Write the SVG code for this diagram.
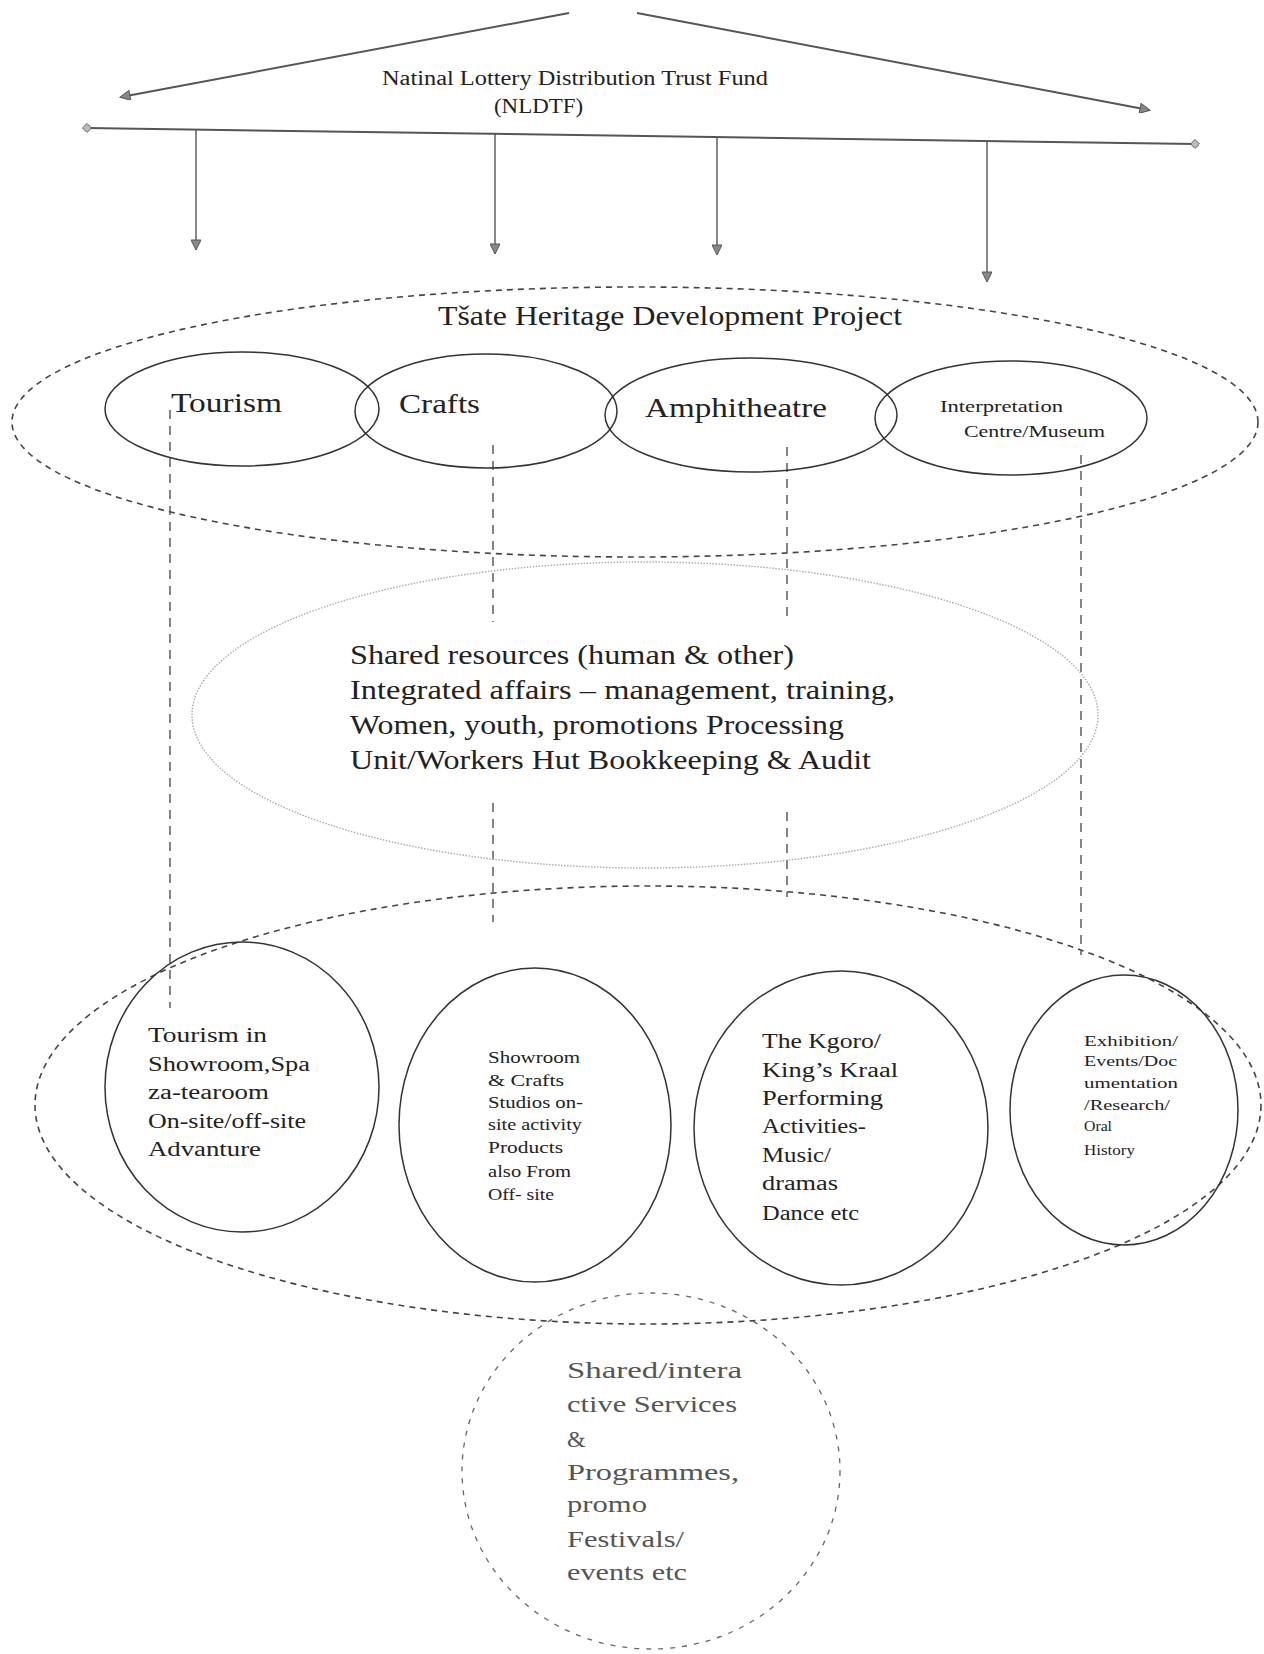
<svg xmlns="http://www.w3.org/2000/svg" width="1264" height="1654" viewBox="0 0 1264 1654">
<style>
  .bg{fill:#ffffff}
  .t{font-family:"Liberation Serif","Times New Roman",serif;fill:#222}
  .tl{font-family:"Liberation Serif","Times New Roman",serif;fill:#555}
  .solid{fill:none;stroke:#333;stroke-width:1.5}
  .dash{fill:none;stroke:#444;stroke-width:1.6;stroke-dasharray:6 5}
  .dot{fill:none;stroke:#aaa;stroke-width:1.4;stroke-dasharray:1.5 1.5}
  .vdash{fill:none;stroke:#444;stroke-width:1.3;stroke-dasharray:9 7}
  .ldash{fill:none;stroke:#666;stroke-width:1.3;stroke-dasharray:5 7}
  .arr{fill:none;stroke:#555;stroke-width:2}
  .arr2{fill:none;stroke:#555;stroke-width:1.4}
</style>
<defs>
  <marker id="ah" viewBox="0 0 10 10" refX="9" refY="5" markerWidth="12" markerHeight="10" markerUnits="userSpaceOnUse" orient="auto">
    <path d="M0,0 L10,5 L0,10 Z" fill="#888" stroke="#555" stroke-width="1"/>
  </marker>
  <marker id="dm" viewBox="0 0 10 10" refX="5" refY="5" markerWidth="9" markerHeight="9" markerUnits="userSpaceOnUse" orient="auto">
    <path d="M0,5 L5,0 L10,5 L5,10 Z" fill="#bbb" stroke="#555" stroke-width="1"/>
  </marker>
</defs>
<rect class="bg" x="0" y="0" width="1264" height="1654"/>

<g id="connectors">
  <line class="arr" x1="569" y1="13" x2="121" y2="97" marker-end="url(#ah)"/>
  <line class="arr" x1="637" y1="13" x2="1149" y2="110" marker-end="url(#ah)"/>
  <line class="arr" x1="87" y1="128" x2="1195" y2="144" marker-start="url(#dm)" marker-end="url(#dm)"/>
  <line class="arr2" x1="196" y1="130" x2="196" y2="249" marker-end="url(#ah)"/>
  <line class="arr2" x1="495" y1="134" x2="495" y2="253" marker-end="url(#ah)"/>
  <line class="arr2" x1="717" y1="137" x2="717" y2="254" marker-end="url(#ah)"/>
  <line class="arr2" x1="987" y1="141" x2="987" y2="281" marker-end="url(#ah)"/>
  <line class="vdash" x1="170" y1="410" x2="170" y2="1008"/>
  <line class="vdash" x1="493" y1="445" x2="493" y2="622"/>
  <line class="vdash" x1="493" y1="803" x2="493" y2="922"/>
  <line class="vdash" x1="787" y1="447" x2="787" y2="623"/>
  <line class="vdash" x1="787" y1="812" x2="787" y2="897"/>
  <line class="vdash" x1="1081" y1="455" x2="1081" y2="955"/>
</g>

<g id="nldtf">
  <text class="t" x="382" y="85" font-size="20" textLength="386" lengthAdjust="spacingAndGlyphs">Natinal Lottery Distribution Trust Fund</text>
  <text class="t" x="494" y="113" font-size="20" textLength="89" lengthAdjust="spacingAndGlyphs">(NLDTF)</text>
</g>

<g id="project">
  <ellipse class="dash" cx="635" cy="422" rx="623" ry="135"/>
  <text class="t" x="438" y="325" font-size="27" textLength="464" lengthAdjust="spacingAndGlyphs">Tšate Heritage Development Project</text>
</g>

<g id="tourism">
  <ellipse class="solid" cx="242" cy="409" rx="137" ry="57"/>
  <text class="t" x="171" y="412" font-size="28" textLength="111" lengthAdjust="spacingAndGlyphs">Tourism</text>
</g>
<g id="crafts">
  <ellipse class="solid" cx="486" cy="411" rx="131" ry="57"/>
  <text class="t" x="399" y="413" font-size="28" textLength="81" lengthAdjust="spacingAndGlyphs">Crafts</text>
</g>
<g id="amphitheatre">
  <ellipse class="solid" cx="751" cy="415" rx="146" ry="57"/>
  <text class="t" x="645" y="417" font-size="28" textLength="182" lengthAdjust="spacingAndGlyphs">Amphitheatre</text>
</g>
<g id="interpretation">
  <ellipse class="solid" cx="1011" cy="418" rx="136" ry="57"/>
  <text class="t" x="940" y="412" font-size="17" textLength="123" lengthAdjust="spacingAndGlyphs">Interpretation</text>
  <text class="t" x="964" y="437" font-size="17" textLength="141" lengthAdjust="spacingAndGlyphs">Centre/Museum</text>
</g>

<g id="shared-resources">
  <ellipse class="dot" cx="645" cy="715" rx="453" ry="153"/>
  <text class="t" font-size="28" fill="#1a1a1a">
    <tspan x="350" y="664" textLength="444" lengthAdjust="spacingAndGlyphs">Shared resources (human &amp; other)</tspan>
    <tspan x="350" y="699" textLength="545" lengthAdjust="spacingAndGlyphs">Integrated affairs – management, training,</tspan>
    <tspan x="350" y="734" textLength="494" lengthAdjust="spacingAndGlyphs">Women, youth, promotions Processing</tspan>
    <tspan x="350" y="769" textLength="521" lengthAdjust="spacingAndGlyphs">Unit/Workers Hut Bookkeeping &amp; Audit</tspan>
  </text>
</g>

<g id="activities">
  <ellipse class="dash" cx="648" cy="1105" rx="613" ry="219"/>
</g>

<g id="tourism-showroom">
  <ellipse class="solid" cx="242" cy="1087" rx="137" ry="145"/>
  <text class="t" font-size="20">
    <tspan x="148" y="1042" textLength="119" lengthAdjust="spacingAndGlyphs">Tourism in</tspan>
    <tspan x="148" y="1071" textLength="162" lengthAdjust="spacingAndGlyphs">Showroom,Spa</tspan>
    <tspan x="148" y="1099" textLength="121" lengthAdjust="spacingAndGlyphs">za-tearoom</tspan>
    <tspan x="148" y="1128" textLength="158" lengthAdjust="spacingAndGlyphs">On-site/off-site</tspan>
    <tspan x="148" y="1156" textLength="113" lengthAdjust="spacingAndGlyphs">Advanture</tspan>
  </text>
</g>

<g id="showroom-crafts">
  <ellipse class="solid" cx="535" cy="1125" rx="136" ry="157"/>
  <text class="t" font-size="16">
    <tspan x="488" y="1063" textLength="92" lengthAdjust="spacingAndGlyphs">Showroom</tspan>
    <tspan x="488" y="1086" textLength="76" lengthAdjust="spacingAndGlyphs">&amp; Crafts</tspan>
    <tspan x="488" y="1108" textLength="95" lengthAdjust="spacingAndGlyphs">Studios on-</tspan>
    <tspan x="488" y="1130" textLength="94" lengthAdjust="spacingAndGlyphs">site activity</tspan>
    <tspan x="488" y="1153" textLength="75" lengthAdjust="spacingAndGlyphs">Products</tspan>
    <tspan x="488" y="1177" textLength="83" lengthAdjust="spacingAndGlyphs">also From</tspan>
    <tspan x="488" y="1200" textLength="66" lengthAdjust="spacingAndGlyphs">Off- site</tspan>
  </text>
</g>

<g id="kgoro">
  <ellipse class="solid" cx="841" cy="1128" rx="147" ry="157"/>
  <text class="t" font-size="20">
    <tspan x="762" y="1048" textLength="119" lengthAdjust="spacingAndGlyphs">The Kgoro/</tspan>
    <tspan x="762" y="1077" textLength="136" lengthAdjust="spacingAndGlyphs">King’s Kraal</tspan>
    <tspan x="762" y="1105" textLength="121" lengthAdjust="spacingAndGlyphs">Performing</tspan>
    <tspan x="762" y="1133" textLength="104" lengthAdjust="spacingAndGlyphs">Activities-</tspan>
    <tspan x="762" y="1162" textLength="69" lengthAdjust="spacingAndGlyphs">Music/</tspan>
    <tspan x="762" y="1190" textLength="76" lengthAdjust="spacingAndGlyphs">dramas</tspan>
    <tspan x="762" y="1220" textLength="97" lengthAdjust="spacingAndGlyphs">Dance etc</tspan>
  </text>
</g>

<g id="exhibition">
  <ellipse class="solid" cx="1124" cy="1110" rx="114" ry="135"/>
  <text class="t" font-size="15">
    <tspan x="1084" y="1046" textLength="94" lengthAdjust="spacingAndGlyphs">Exhibition/</tspan>
    <tspan x="1084" y="1066" textLength="93" lengthAdjust="spacingAndGlyphs">Events/Doc</tspan>
    <tspan x="1084" y="1088" textLength="94" lengthAdjust="spacingAndGlyphs">umentation</tspan>
    <tspan x="1084" y="1110" textLength="86" lengthAdjust="spacingAndGlyphs">/Research/</tspan>
    <tspan x="1084" y="1131" textLength="28" lengthAdjust="spacingAndGlyphs">Oral</tspan>
    <tspan x="1084" y="1155" textLength="51" lengthAdjust="spacingAndGlyphs">History</tspan>
  </text>
</g>

<g id="shared-services">
  <ellipse class="ldash" cx="651" cy="1471" rx="189" ry="178"/>
  <text class="tl" font-size="24">
    <tspan x="567" y="1378" textLength="175" lengthAdjust="spacingAndGlyphs">Shared/intera</tspan>
    <tspan x="567" y="1412" textLength="170" lengthAdjust="spacingAndGlyphs">ctive Services</tspan>
    <tspan x="567" y="1447">&amp;</tspan>
    <tspan x="567" y="1480" textLength="172" lengthAdjust="spacingAndGlyphs">Programmes,</tspan>
    <tspan x="567" y="1512" textLength="80" lengthAdjust="spacingAndGlyphs">promo</tspan>
    <tspan x="567" y="1547" textLength="117" lengthAdjust="spacingAndGlyphs">Festivals/</tspan>
    <tspan x="567" y="1580" textLength="120" lengthAdjust="spacingAndGlyphs">events etc</tspan>
  </text>
</g>
</svg>
